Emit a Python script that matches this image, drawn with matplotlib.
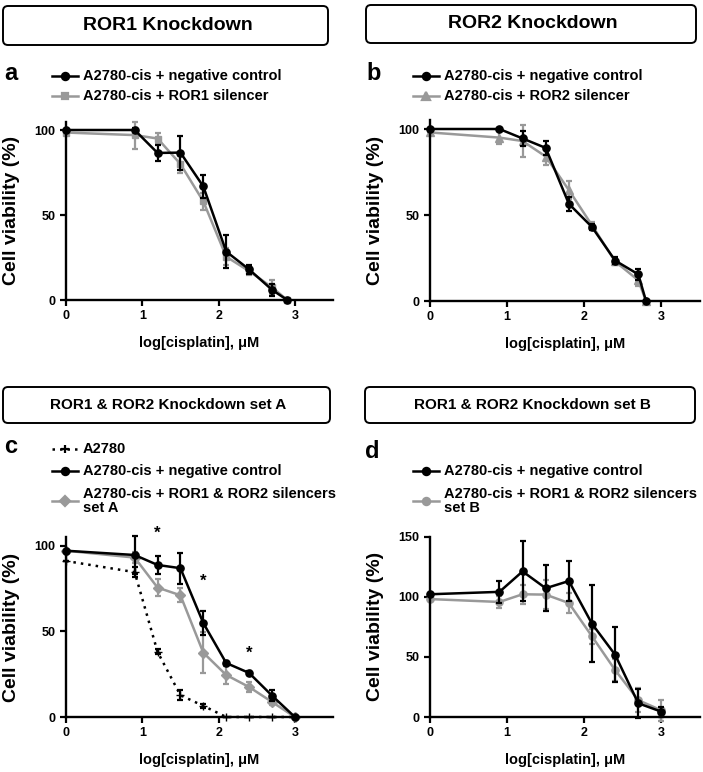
import matplotlib
matplotlib.use('Agg')
import matplotlib.pyplot as plt
from matplotlib.patches import FancyBboxPatch
from matplotlib.lines import Line2D

plt.rcParams['font.family'] = ['Liberation Sans', 'DejaVu Sans']
plt.rcParams['font.weight'] = 'bold'

# ---------------- data ----------------
# Panel a: ROR1 knockdown
a_x = [0, 0.9, 1.2, 1.5, 1.8, 2.1, 2.4, 2.7, 2.9]
a_ctrl = [100, 100, 86.5, 86.7, 66.8, 28.5, 18, 6, 0]
a_ctrl_err = [0, 1, 4.5, 10, 7, 9.5, 2.5, 3.5, 0]
a_sil = [98.5, 97, 95, 80, 58, 25.5, 17, 7.5, 0]
a_sil_err = [0, 8, 3, 5, 5, 5, 2.5, 4, 0]

# Panel b: ROR2 knockdown
b_x = [0, 0.9, 1.2, 1.5, 1.8, 2.1, 2.4, 2.7, 2.8]
b_ctrl = [100, 100, 94.5, 89, 56.5, 43, 23.5, 15.5, 0]
b_ctrl_err = [0, 0.5, 4.5, 4, 4, 2, 2, 3, 0]
b_sil = [98, 95, 93, 84, 64.5, 44, 23, 12, 0]
b_sil_err = [0, 4, 9.5, 5, 5, 2, 2, 3, 0]

# Panel c: ROR1 & ROR2 knockdown set A
c_x = [0, 0.9, 1.2, 1.5, 1.8, 2.1, 2.4, 2.7, 3.0]
c_parent = [91, 84.5, 38, 12.7, 6.5, 0, 0, 0, 0]
c_parent_err = [0, 3, 1.5, 3, 1, 0, 0, 0, 0]
c_ctrl = [97, 94.5, 88.7, 86.8, 54.8, 31.5, 25.7, 12.5, 0]
c_ctrl_err = [0, 11, 5, 9, 7, 1, 1, 3, 0]
c_sil = [97, 93, 75.5, 71, 37.5, 24.5, 17.5, 8.8, 0]
c_sil_err = [0, 3, 5, 4, 12, 5, 3, 2, 0]
c_star_x = [1.2, 1.8, 2.4]
c_star_y = [107, 79, 37]

# Panel d: ROR1 & ROR2 knockdown set B
d_x = [0, 0.9, 1.2, 1.5, 1.8, 2.1, 2.4, 2.7, 3.0]
d_ctrl = [102, 104, 121, 107, 113, 77.5, 51.7, 11.4, 4.4]
d_ctrl_err = [0, 9, 25, 19, 17, 32, 23, 12, 4]
d_sil = [98, 95.6, 102, 101.7, 94.7, 67, 39, 14, 5.5]
d_sil_err = [0, 5, 8, 12, 8, 6, 9, 10, 9]

xticks = [0, 1, 2, 3]
yticks_abc = [0, 50, 100]
yticks_d = [0, 50, 100, 150]

titles = ['ROR1 Knockdown', 'ROR2 Knockdown',
          'ROR1 & ROR2 Knockdown set A', 'ROR1 & ROR2 Knockdown set B']
letters = ['a', 'b', 'c', 'd']
lbl_ctrl = 'A2780-cis + negative control'
lbl_a = 'A2780-cis + ROR1 silencer'
lbl_b = 'A2780-cis + ROR2 silencer'
lbl_parent = 'A2780'
lbl_c = 'A2780-cis + ROR1 & ROR2 silencers\nset A'
lbl_d = 'A2780-cis + ROR1 & ROR2 silencers\nset B'
xlabel = 'log[cisplatin], \u03bcM'
ylabel = 'Cell viability (%)'

# ---------------- figure ----------------
W, H = 703, 772
fig = plt.figure(figsize=(W / 100, H / 100), dpi=100)
BLACK = '#000000'
GRAY = '#999999'
LW = 1.8
MS = 5.2


def fx(x):
    return x / W


def fy(y):
    return 1 - y / H


def make_ax(left, bottom_px, width_px, height_px):
    return fig.add_axes([fx(left), fy(bottom_px), width_px / W, height_px / H])


def style_ax(ax, ymax, yticks):
    ax.set_xlim(0, 3.5)
    ax.set_ylim(0, ymax)
    for s in ['top', 'right']:
        ax.spines[s].set_visible(False)
    for s in ['left', 'bottom']:
        ax.spines[s].set_linewidth(1.7)
    ax.set_xticks(xticks)
    ax.set_yticks(yticks)
    ax.tick_params(direction='out', length=4.5, width=1.6, labelsize=9, pad=3)
    for t in ax.get_xticklabels() + ax.get_yticklabels():
        t.set_fontweight('bold')
    ax.set_xlabel(xlabel, fontsize=10.5, fontweight='bold', labelpad=10)
    ax.set_ylabel(ylabel, fontsize=14, fontweight='bold')
    ax.yaxis.set_label_coords(-0.172, 0.5)


def series(ax, x, y, err, color, marker, ms, ls='-', z=2):
    ax.errorbar(x, y, yerr=err, color=color, marker=marker, markersize=ms,
                linewidth=LW, linestyle=ls, elinewidth=1.6, capsize=2.3,
                capthick=1.6, zorder=z, clip_on=False)


axa = make_ax(66, 300, 267, 178.5)
axb = make_ax(430, 301, 270, 180.6)
axc = make_ax(66, 717, 267, 180)
axd = make_ax(430, 717, 270, 180.5)

series(axa, a_x, a_sil, a_sil_err, GRAY, 's', MS - 0.4)
series(axa, a_x, a_ctrl, a_ctrl_err, BLACK, 'o', MS, z=3)
style_ax(axa, 105, yticks_abc)

series(axb, b_x, b_sil, b_sil_err, GRAY, '^', MS + 0.3)
series(axb, b_x, b_ctrl, b_ctrl_err, BLACK, 'o', MS, z=3)
style_ax(axb, 105, yticks_abc)

series(axc, c_x, c_parent, c_parent_err, BLACK, '+', 5.5, ls=(0, (1, 2.0)))
series(axc, c_x, c_sil, c_sil_err, GRAY, 'D', MS - 0.4)
series(axc, c_x, c_ctrl, c_ctrl_err, BLACK, 'o', MS, z=3)
for sx, sy in zip(c_star_x, c_star_y):
    axc.text(sx, sy, '*', ha='center', va='center', fontsize=12, clip_on=False)
style_ax(axc, 105, yticks_abc)

series(axd, d_x, d_sil, d_sil_err, GRAY, 'o', MS)
series(axd, d_x, d_ctrl, d_ctrl_err, BLACK, 'o', MS, z=3)
style_ax(axd, 150, yticks_d)

# ---------------- title boxes ----------------
boxes = [(3, 6, 328, 45, 14), (366, 5, 696, 43, 14),
         (3, 387, 330, 423, 11), (365, 387, 695, 423, 11)]
for (x0, y0, x1, y1, fs), t in zip(boxes, titles):
    p = FancyBboxPatch((x0 / 100, (H - y1) / 100), (x1 - x0) / 100, (y1 - y0) / 100,
                       boxstyle='round,pad=0,rounding_size=0.05',
                       transform=fig.dpi_scale_trans, facecolor='white',
                       edgecolor='black', linewidth=1.4)
    fig.add_artist(p)
    fig.text(fx((x0 + x1) / 2 + 2), fy((y0 + y1) / 2), t, ha='center', va='center',
             fontsize=fs, fontweight='bold')

# ---------------- panel letters ----------------
for (lx, ly), l in zip([(4, 74), (366, 74), (4, 446), (365, 451)], letters):
    fig.text(fx(lx), fy(ly), l, ha='left', va='center', fontsize=17, fontweight='bold')


# ---------------- legends ----------------
def legend_entry(x0, y, text, color, marker, ms, ls='-', yline=None):
    yl = y if yline is None else yline
    ln = Line2D([fx(x0), fx(x0 + 26)], [fy(yl), fy(yl)], transform=fig.transFigure,
                color=color, linewidth=LW, linestyle=ls)
    mk = Line2D([fx(x0 + 13)], [fy(yl)], transform=fig.transFigure, color=color,
                marker=marker, markersize=ms, linestyle='none', markeredgewidth=1.6)
    fig.add_artist(ln)
    fig.add_artist(mk)
    fig.text(fx(x0 + 31), fy(y), text, ha='left', va='center', fontsize=10.5,
             fontweight='bold', linespacing=1.05)


legend_entry(52, 76, lbl_ctrl, BLACK, 'o', MS)
legend_entry(52, 96, lbl_a, GRAY, 's', MS - 0.4)
legend_entry(413, 76, lbl_ctrl, BLACK, 'o', MS)
legend_entry(413, 96, lbl_b, GRAY, '^', MS + 0.3)
legend_entry(52, 449, lbl_parent, BLACK, '+', 5.5, ls=(0, (1, 2.0)))
legend_entry(52, 471, lbl_ctrl, BLACK, 'o', MS)
legend_entry(52, 501, lbl_c, GRAY, 'D', MS - 0.4)
legend_entry(413, 471, lbl_ctrl, BLACK, 'o', MS)
legend_entry(413, 501, lbl_d, GRAY, 'o', MS)

fig.savefig('out.png', dpi=100)
